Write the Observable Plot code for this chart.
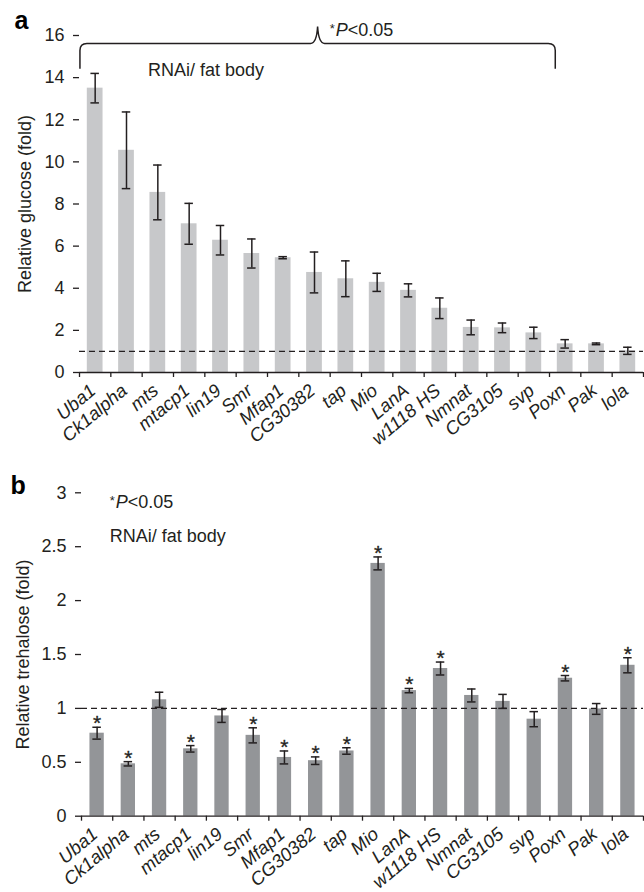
<!DOCTYPE html>
<html><head><meta charset="utf-8">
<script src="https://cdn.jsdelivr.net/npm/d3@7"></script>
<script src="https://cdn.jsdelivr.net/npm/@observablehq/plot@0.6"></script>
<style>body{margin:0;background:#fff;} svg{display:block;overflow:visible;}</style>
</head><body><div id="a"></div><div id="b"></div>
<script>
const categories = ["Uba1","Ck1alpha","mts","mtacp1","lin19","Smr","Mfap1","CG30382","tap","Mio","LanA","w1118 HS","Nmnat","CG3105","svp","Poxn","Pak","lola"];
const glucose    = [13.5,10.55,8.55,7.06,6.28,5.65,5.45,4.75,4.45,4.28,3.9,3.05,2.14,2.12,1.88,1.36,1.36,1.03];
const glucoseErr = [0.7,1.82,1.3,0.97,0.7,0.69,0.05,0.97,0.85,0.43,0.31,0.49,0.35,0.23,0.27,0.2,0.04,0.17];
const trehalose    = [0.77,0.486,1.08,0.625,0.93,0.75,0.545,0.515,0.605,2.345,1.165,1.37,1.12,1.065,0.9,1.28,0.995,1.40];
const trehaloseErr = [0.055,0.02,0.07,0.03,0.06,0.07,0.06,0.035,0.03,0.06,0.02,0.06,0.06,0.065,0.07,0.025,0.05,0.07];
const trehaloseSig = [1,1,0,1,0,1,1,1,1,1,1,1,0,0,0,1,0,1];
const glucoseTicks = [0,2,4,6,8,10,12,14,16];
const trehaloseTicks = [0,0.5,1,1.5,2,2.5,3];
const referenceLevel = 1;
const braceY = [14.4, 15.6, 16.4]; // ends, line, tip (glucose units)
const braceSpan = ["Uba1", "svp"];
const pText = ["*", "P", "<0.05"];
const groupText = "RNAi/ fat body";

const ink = "#231f20";
const W = 644;
const FONT = "'Liberation Sans', Arial, Helvetica, sans-serif";

function makePanel(o) {
  const data = categories.map((c, i) => ({cat: c, v: o.values[i], e: o.errors[i], s: o.sig ? o.sig[i] : 0}));
  const step = (W - o.ml - o.mr) / categories.length;
  const innerH = o.height - o.mt - o.mb;
  const unitPx = innerH / o.yMax;
  const tickLen = 5 / unitPx;
  const capInset = (step - 8.5) / 2;
  const last = categories[categories.length - 1];
  const marks = [
    Plot.barY(data, {x: "cat", y: "v", fill: o.color, insetLeft: o.barInset, insetRight: o.barInset}),
    Plot.ruleY([referenceLevel], {stroke: ink, strokeWidth: 1.3, strokeDasharray: "6,4"}),
    Plot.ruleX(data, {x: "cat", y1: d => d.v - d.e, y2: d => d.v + d.e, stroke: ink, strokeWidth: 1.5}),
    Plot.tickY(data, {x: "cat", y: d => d.v + d.e, insetLeft: capInset, insetRight: capInset, stroke: ink, strokeWidth: 1.5}),
    Plot.tickY(data, {x: "cat", y: d => d.v - d.e, insetLeft: capInset, insetRight: capInset, stroke: ink, strokeWidth: 1.5}),
    Plot.ruleY([0], {stroke: ink, strokeWidth: 1.3}),
    Plot.ruleX(categories, {x: d => d, y1: 0, y2: -tickLen, dx: -step / 2, stroke: ink, strokeWidth: 1.3}),
    Plot.ruleX([last], {x: d => d, y1: 0, y2: -tickLen, dx: step / 2, stroke: ink, strokeWidth: 1.3}),
    Plot.axisY({ticks: o.ticks, tickSize: 6, tickPadding: 9, fontSize: 18, label: null, line: true, tickFormat: d => String(d), stroke: ink, strokeWidth: 1.3}),
    Plot.axisX({tickRotate: -40, tickSize: 0, tickPadding: 15.5, dx: -2, fontSize: 18.5, fontStyle: "italic", label: null}),
    Plot.text([o.title], {frameAnchor: "left", text: d => d, rotate: -90, dx: o.titleX - o.ml, lineAnchor: "bottom", textAnchor: "middle", fontSize: 18, fill: ink}),
    Plot.text([o.letter], {frameAnchor: "top-left", text: d => d, dx: o.letterX - o.ml, dy: o.letterDy, lineAnchor: "bottom", textAnchor: "start", fontSize: 25, fontWeight: "bold", fill: "#000"})
  ];
  if (o.sig) {
    marks.push(Plot.text(data.filter(d => d.s), {x: "cat", y: d => d.v + d.e, text: () => "*", fontSize: 21, lineAnchor: "bottom", dy: 3, fill: ink, stroke: ink, strokeWidth: 0.3}));
  }
  return Plot.plot({
    width: W, height: o.height,
    marginLeft: o.ml, marginRight: o.mr, marginTop: o.mt, marginBottom: o.mb,
    x: {domain: categories, padding: 0, round: false},
    y: {domain: [0, o.yMax]},
    style: {fontFamily: FONT, color: ink, background: "white", overflow: "visible"},
    marks
  });
}

function addText(g, x, y, size) {
  return g.append("text").attr("x", x).attr("y", y).attr("fill", ink).attr("text-anchor", "start")
    .style("font-size", size + "px").style("font-family", FONT);
}
function addPText(g, x, y, size) {
  const t = addText(g, x, y, size);
  t.append("tspan").text(pText[0]).attr("dy", -3).style("font-size", (size * 0.72) + "px");
  t.append("tspan").text(pText[1]).attr("dy", 3).attr("dx", 1).style("font-style", "italic");
  t.append("tspan").text(pText[2]);
}

// Panel a
const plotA = makePanel({values: glucose, errors: glucoseErr, ticks: glucoseTicks, yMax: 16, color: "#c7c8ca",
  height: 445, mt: 35, mb: 73, ml: 79, mr: 1, barInset: 7.8, title: "Relative glucose (fold)", titleX: 30,
  letter: "a", letterX: 14, letterDy: -7});
document.getElementById("a").appendChild(plotA);
{
  const sx = plotA.scale("x"), sy = plotA.scale("y");
  const step = sx.step;
  const g = d3.select(plotA).append("g");
  const x0 = sx.apply(braceSpan[0]) + 0.03 * step;
  const x1 = sx.apply(braceSpan[1]) + 1.2 * step;
  const xm = (x0 + x1) / 2;
  const yE = sy.apply(braceY[0]), yL = sy.apply(braceY[1]), yT = sy.apply(braceY[2]);
  const r = 7;
  const path = `M${x0},${yE} L${x0},${yL + r} Q${x0},${yL} ${x0 + r},${yL} L${xm - r},${yL} Q${xm - 1},${yL} ${xm},${yT} Q${xm + 1},${yL} ${xm + r},${yL} L${x1 - r},${yL} Q${x1},${yL} ${x1},${yL + r} L${x1},${yE}`;
  g.append("path").attr("d", path).attr("fill", "none").attr("stroke", ink).attr("stroke-width", 1.5);
  addPText(g, sx.apply("tap"), sy.apply(15.95), 18);
  addText(g, sx.apply("mts") + 0.2 * step, sy.apply(14.05), 18).text(groupText);
}

// Panel b
const plotB = makePanel({values: trehalose, errors: trehaloseErr, sig: trehaloseSig, ticks: trehaloseTicks, yMax: 3, color: "#939598",
  height: 447, mt: 47.3, mb: 76.3, ml: 81, mr: 1, barInset: 8.45, title: "Relative trehalose (fold)", titleX: 28,
  letter: "b", letterX: 10, letterDy: 0.7});
document.getElementById("b").appendChild(plotB);
{
  const sx = plotB.scale("x"), sy = plotB.scale("y");
  const step = sx.step;
  const g = d3.select(plotB).append("g");
  const xt = sx.apply("Ck1alpha") - 0.08 * step;
  addPText(g, xt, sy.apply(2.85), 18);
  addText(g, xt, sy.apply(2.54), 18).text(groupText);
}
</script>
</body></html>
